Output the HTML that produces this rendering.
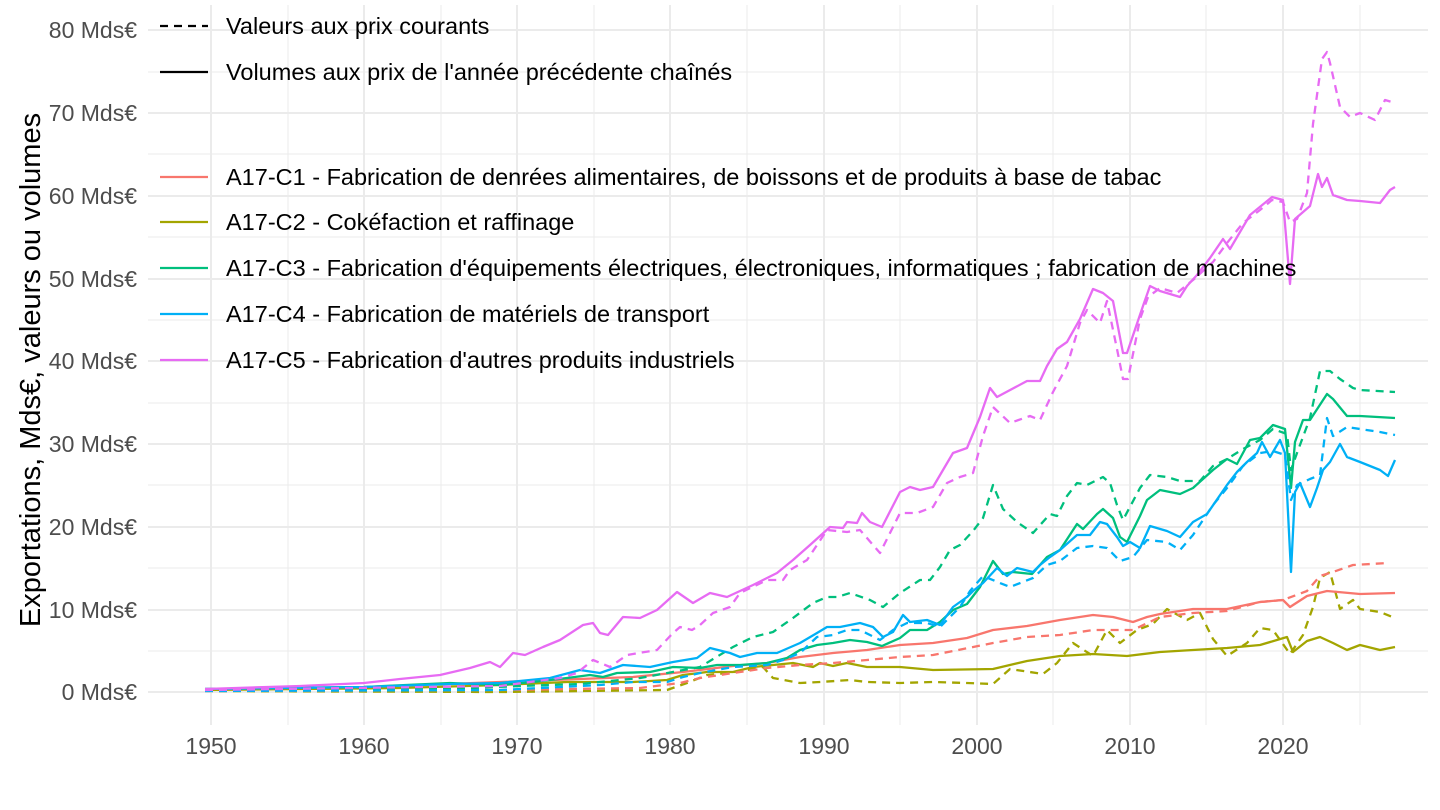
<!DOCTYPE html>
<html><head><meta charset="utf-8"><style>
html,body{margin:0;padding:0;background:#fff;}
svg{display:block;font-family:"Liberation Sans",Arial,sans-serif;}
.maj{stroke:#ebebeb;stroke-width:2;}
.min{stroke:#ebebeb;stroke-width:1;}
.yl{font-size:23px;fill:#4d4d4d;text-anchor:end;}
.xl{font-size:23px;fill:#4d4d4d;text-anchor:middle;}
.lg{font-size:23.5px;fill:#000;}
path{fill:none;stroke-width:2.3;stroke-linejoin:round;}
.d{stroke-dasharray:8 6;}
</style></head><body>
<svg width="1440" height="810" viewBox="0 0 1440 810">
<g class="min">
<line x1="148" x2="1428" y1="651" y2="651"/><line x1="148" x2="1428" y1="568" y2="568"/>
<line x1="148" x2="1428" y1="485" y2="485"/><line x1="148" x2="1428" y1="403" y2="403"/>
<line x1="148" x2="1428" y1="320" y2="320"/><line x1="148" x2="1428" y1="237" y2="237"/>
<line x1="148" x2="1428" y1="154" y2="154"/><line x1="148" x2="1428" y1="72" y2="72"/>
<line y1="5" y2="725" x1="288" x2="288"/><line y1="5" y2="725" x1="441" x2="441"/>
<line y1="5" y2="725" x1="594" x2="594"/><line y1="5" y2="725" x1="747" x2="747"/>
<line y1="5" y2="725" x1="900" x2="900"/><line y1="5" y2="725" x1="1053" x2="1053"/>
<line y1="5" y2="725" x1="1206" x2="1206"/><line y1="5" y2="725" x1="1360" x2="1360"/>
</g>
<g class="maj">
<line x1="148" x2="1428" y1="692" y2="692"/><line x1="148" x2="1428" y1="610" y2="610"/>
<line x1="148" x2="1428" y1="527" y2="527"/><line x1="148" x2="1428" y1="444" y2="444"/>
<line x1="148" x2="1428" y1="361" y2="361"/><line x1="148" x2="1428" y1="279" y2="279"/>
<line x1="148" x2="1428" y1="196" y2="196"/><line x1="148" x2="1428" y1="113" y2="113"/>
<line x1="148" x2="1428" y1="30" y2="30"/>
<line y1="5" y2="725" x1="211" x2="211"/><line y1="5" y2="725" x1="364" x2="364"/>
<line y1="5" y2="725" x1="517" x2="517"/><line y1="5" y2="725" x1="670" x2="670"/>
<line y1="5" y2="725" x1="824" x2="824"/><line y1="5" y2="725" x1="977" x2="977"/>
<line y1="5" y2="725" x1="1130" x2="1130"/><line y1="5" y2="725" x1="1283" x2="1283"/>
</g>
<g class="yl">
<text x="137" y="700">0 Mds€</text><text x="137" y="618">10 Mds€</text>
<text x="137" y="535">20 Mds€</text><text x="137" y="452">30 Mds€</text>
<text x="137" y="369">40 Mds€</text><text x="137" y="287">50 Mds€</text>
<text x="137" y="204">60 Mds€</text><text x="137" y="121">70 Mds€</text>
<text x="137" y="38">80 Mds€</text>
</g>
<g class="xl">
<text x="211" y="754">1950</text><text x="364" y="754">1960</text><text x="517" y="754">1970</text>
<text x="670" y="754">1980</text><text x="824" y="754">1990</text><text x="977" y="754">2000</text>
<text x="1130" y="754">2010</text><text x="1283" y="754">2020</text>
</g>
<text transform="translate(40,370) rotate(-90)" text-anchor="middle" style="font-size:29px;fill:#000">Exportations, Mds€, valeurs ou volumes</text>

<path class="d" stroke="#A3A500" d="M205,691 L500,692 L667,690 L687,683 L707,675 L727,673 L747,670 L763,667 L773,678 L800,683 L820,682 L850,680 L867,682 L900,683 L933,682 L967,683 L993,684 L1010,669 L1043,674 L1057,663 L1073,643 L1093,656 L1107,630 L1120,643 L1137,630 L1153,624 L1167,609 L1187,620 L1200,613 L1213,639 L1227,656 L1247,643 L1260,628 L1273,630 L1290,654 L1303,635 L1313,607 L1320,578 L1330,572 L1340,609 L1353,600 L1360,609 L1380,612 L1395,618"/>
<path stroke="#A3A500" d="M205,690 L400,688 L500,685 L567,682 L633,682 L667,680 L683,675 L707,672 L733,672 L753,667 L773,665 L793,663 L813,667 L820,663 L833,666 L847,663 L867,667 L900,667 L933,670 L993,669 L1027,661 L1060,656 L1093,654 L1127,656 L1160,652 L1193,650 L1227,648 L1260,645 L1287,637 L1293,652 L1307,641 L1320,637 L1333,643 L1347,650 L1360,645 L1380,650 L1395,647"/>
<path class="d" stroke="#F8766D" d="M205,691 L500,690 L640,688 L680,683 L700,678 L733,673 L767,668 L800,665 L833,663 L867,660 L900,657 L933,655 L993,643 L1027,637 L1060,635 L1093,630 L1133,630 L1160,617 L1193,613 L1227,611 L1260,602 L1283,600 L1307,591 L1320,576 L1333,572 L1353,565 L1388,563"/>
<path stroke="#F8766D" d="M205,689 L364,687 L500,682 L633,677 L683,672 L733,666 L767,663 L800,657 L833,653 L867,650 L900,645 L933,643 L967,638 L993,630 L1027,626 L1060,620 L1093,615 L1113,617 L1133,622 L1147,617 L1160,614 L1193,609 L1227,609 L1260,602 L1283,600 L1290,607 L1307,596 L1327,591 L1360,594 L1395,593"/>
<path class="d" stroke="#00BF7D" d="M205,690 L450,689 L520,686 L580,684 L640,678 L700,667 L733,647 L753,637 L773,632 L793,618 L813,603 L827,597 L837,597 L850,593 L870,600 L883,607 L900,593 L920,580 L930,580 L940,567 L950,550 L960,545 L973,531 L983,518 L993,485 L1003,509 L1017,522 L1033,533 L1050,514 L1057,516 L1067,496 L1077,483 L1087,485 L1103,477 L1110,483 L1117,505 L1123,520 L1140,488 L1150,475 L1167,477 L1180,481 L1200,481 L1213,466 L1227,459 L1243,449 L1260,440 L1273,429 L1287,434 L1291,470 L1297,453 L1310,418 L1320,371 L1330,371 L1340,379 L1353,388 L1360,390 L1395,392"/>
<path stroke="#00BF7D" d="M205,689 L364,687 L450,683 L500,685 L533,682 L567,678 L590,675 L603,677 L617,673 L650,672 L673,667 L700,668 L717,665 L740,665 L767,663 L787,658 L800,650 L817,645 L833,643 L850,640 L867,642 L882,646 L900,638 L910,630 L927,630 L940,622 L953,610 L967,604 L980,587 L993,561 L1003,574 L1013,572 L1032,574 L1047,557 L1060,550 L1077,524 L1083,529 L1097,514 L1103,509 L1113,518 L1120,537 L1127,542 L1140,516 L1147,500 L1160,490 L1180,494 L1193,488 L1213,470 L1227,459 L1237,464 L1250,440 L1260,438 L1273,425 L1285,429 L1291,488 L1295,442 L1303,420 L1310,420 L1327,394 L1333,399 L1347,416 L1360,416 L1395,418"/>
<path class="d" stroke="#00B0F6" d="M205,691 L500,690 L600,685 L633,682 L667,682 L683,677 L700,673 L733,667 L767,665 L783,660 L800,653 L817,637 L833,635 L847,630 L860,630 L880,640 L893,630 L907,623 L927,623 L940,627 L960,607 L970,591 L983,576 L1000,583 L1010,587 L1033,578 L1047,565 L1060,561 L1077,548 L1093,546 L1107,548 L1120,561 L1133,557 L1147,540 L1167,542 L1180,550 L1193,535 L1213,505 L1227,488 L1243,466 L1260,453 L1273,451 L1285,455 L1291,500 L1297,485 L1310,479 L1320,475 L1327,418 L1333,436 L1347,427 L1360,429 L1380,432 L1395,435"/>
<path stroke="#00B0F6" d="M205,689 L364,687 L450,684 L500,683 L550,678 L580,670 L600,673 L623,665 L650,667 L673,662 L697,658 L710,648 L730,653 L740,657 L757,653 L777,653 L800,643 L817,633 L827,627 L840,627 L860,623 L873,627 L883,637 L893,632 L903,615 L910,622 L927,620 L940,625 L953,607 L967,597 L973,591 L983,583 L997,568 L1007,576 L1017,568 L1033,572 L1040,565 L1050,557 L1060,550 L1077,535 L1090,535 L1100,522 L1107,524 L1117,537 L1123,546 L1130,542 L1140,548 L1150,526 L1167,531 L1180,537 L1193,522 L1207,514 L1227,485 L1237,472 L1247,462 L1257,453 L1262,442 L1270,457 L1280,440 L1285,453 L1291,572 L1295,492 L1300,483 L1310,507 L1317,488 L1323,470 L1330,462 L1340,444 L1347,457 L1360,462 L1380,470 L1388,476 L1395,460"/>
<path class="d" stroke="#E76BF3" d="M205,690 L500,686 L560,678 L577,673 L593,660 L610,667 L627,655 L657,650 L673,633 L680,627 L692,630 L700,625 L713,613 L730,607 L740,593 L767,580 L783,580 L790,570 L807,560 L827,530 L847,532 L860,530 L880,553 L900,513 L917,513 L933,507 L947,483 L960,477 L973,473 L983,436 L993,407 L1010,423 L1030,416 L1040,420 L1053,392 L1067,366 L1080,323 L1087,310 L1100,323 L1107,301 L1117,349 L1123,379 L1128,379 L1140,319 L1148,297 L1160,288 L1177,293 L1193,280 L1213,262 L1227,243 L1243,223 L1260,210 L1272,200 L1283,202 L1290,222 L1297,219 L1307,193 L1313,124 L1322,59 L1327,52 L1330,63 L1340,107 L1350,117 L1360,113 L1375,120 L1385,100 L1395,103"/>
<path stroke="#E76BF3" d="M205,689 L300,686 L364,683 L400,679 L440,675 L470,668 L490,662 L500,667 L513,653 L525,655 L543,647 L560,640 L583,625 L593,623 L600,633 L608,635 L623,617 L640,618 L657,610 L677,592 L693,603 L710,593 L727,597 L753,585 L777,573 L793,560 L810,545 L830,527 L843,528 L847,522 L857,523 L862,513 L870,522 L882,527 L900,492 L910,487 L920,490 L933,487 L953,453 L967,448 L980,417 L990,388 L997,397 L1027,381 L1040,381 L1047,366 L1057,349 L1067,342 L1080,319 L1093,289 L1103,293 L1113,301 L1123,353 L1127,353 L1143,306 L1150,286 L1160,291 L1180,297 L1187,286 L1197,275 L1210,258 L1223,239 L1230,249 L1240,232 L1250,215 L1272,197 L1283,200 L1290,284 L1295,219 L1310,206 L1318,174 L1322,187 L1327,178 L1333,195 L1347,200 L1360,201 L1380,203 L1390,190 L1395,187"/>

<path stroke="#000" class="d" d="M160,26 L208,26"/>
<text class="lg" x="226" y="34">Valeurs aux prix courants</text>
<path stroke="#000" d="M160,72 L208,72"/>
<text class="lg" x="226" y="80">Volumes aux prix de l'année précédente chaînés</text>
<path stroke="#F8766D" d="M160,177 L208,177"/>
<text class="lg" x="226" y="185">A17-C1 - Fabrication de denrées alimentaires, de boissons et de produits à base de tabac</text>
<path stroke="#A3A500" d="M160,222 L208,222"/>
<text class="lg" x="226" y="230">A17-C2 - Cokéfaction et raffinage</text>
<path stroke="#00BF7D" d="M160,268 L208,268"/>
<text class="lg" x="226" y="276">A17-C3 - Fabrication d'équipements électriques, électroniques, informatiques ; fabrication de machines</text>
<path stroke="#00B0F6" d="M160,314 L208,314"/>
<text class="lg" x="226" y="322">A17-C4 - Fabrication de matériels de transport</text>
<path stroke="#E76BF3" d="M160,360 L208,360"/>
<text class="lg" x="226" y="368">A17-C5 - Fabrication d'autres produits industriels</text>
</svg>
</body></html>
